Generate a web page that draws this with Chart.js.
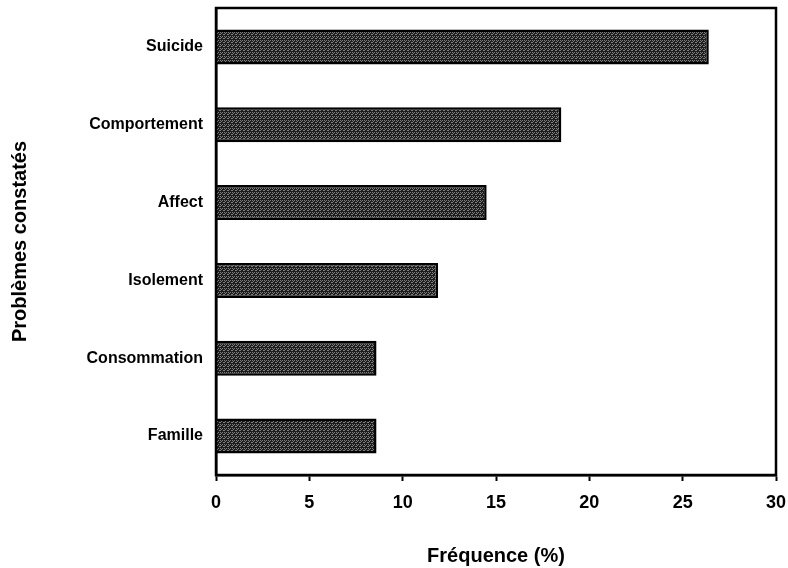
<!DOCTYPE html>
<html>
<head>
<meta charset="utf-8">
<script src="https://cdn.jsdelivr.net/npm/chart.js@4.4.1/dist/chart.umd.min.js"></script>
<style>
  html, body { margin: 0; padding: 0; background: #fff; }
  #wrap { width: 788px; height: 568px; }
</style>
</head>
<body>
<div id="wrap"><canvas id="barChart" width="788" height="568"></canvas></div>
<script>
// Problemes constates - frequence (%)
var categories = ['Suicide', 'Comportement', 'Affect', 'Isolement', 'Consommation', 'Famille'];
var frequences = [26.4, 18.5, 14.5, 11.9, 8.6, 8.6];
var xTicks = [0, 5, 10, 15, 20, 25, 30];

var fontFamily = '"Liberation Sans", Arial, Helvetica, sans-serif';

// stippled grey fill, like the printed bars
function makePattern() {
    var c = document.createElement('canvas');
    c.width = 4;
    c.height = 4;
    var g = c.getContext('2d');
    g.fillStyle = '#1c1c1c';
    g.fillRect(0, 0, 4, 4);
    g.fillStyle = '#808080';
    g.fillRect(0, 0, 1, 1);
    g.fillRect(2, 0, 1, 1);
    g.fillRect(1, 1, 1, 1);
    g.fillRect(3, 2, 1, 1);
    g.fillRect(0, 2, 1, 1);
    return g.createPattern(c, 'repeat');
}

// frame around the plot area (top and right sides)
var frameBox = {
    id: 'frameBox',
    afterDraw: function(chart) {
        var a = chart.chartArea;
        var ctx = chart.ctx;
        ctx.save();
        ctx.strokeStyle = '#000';
        ctx.lineWidth = 2.5;
        ctx.strokeRect(a.left, a.top, a.right - a.left, a.bottom - a.top);
        ctx.restore();
    }
};

var ctx = document.getElementById('barChart').getContext('2d');
new Chart(ctx, {
    type: 'bar',
    data: {
        labels: categories,
        datasets: [{
            label: 'Fréquence (%)',
            data: frequences,
            backgroundColor: makePattern(),
            borderColor: '#000',
            borderWidth: 2.5,
            barPercentage: 0.45,
            categoryPercentage: 1
        }]
    },
    options: {
        indexAxis: 'y',
        responsive: false,
        animation: false,
        layout: {
            padding: { top: 8, right: 12, left: 0, bottom: 0 }
        },
        plugins: {
            legend: { display: false },
            tooltip: { enabled: false }
        },
        scales: {
            x: {
                min: 0,
                max: 30,
                afterBuildTicks: function(scale) {
                    scale.ticks = xTicks.map(function(v) { return { value: v }; });
                },
                afterFit: function(scale) {
                    scale.height = 93;
                    scale.paddingLeft = 0;
                    scale.paddingRight = 0;
                },
                grid: {
                    drawOnChartArea: false,
                    tickLength: 6,
                    tickWidth: 2,
                    color: '#000'
                },
                border: { color: '#000', width: 2.5 },
                ticks: {
                    color: '#000',
                    padding: 11,
                    maxRotation: 0,
                    font: { family: fontFamily, size: 18, weight: 'bold' }
                },
                title: {
                    display: true,
                    text: 'Fréquence (%)',
                    color: '#000',
                    padding: { top: 0, bottom: 0 },
                    font: { family: fontFamily, size: 20, weight: 'bold' }
                }
            },
            y: {
                afterFit: function(scale) {
                    scale.width = 216;
                    scale.paddingTop = 0;
                    scale.paddingBottom = 0;
                },
                grid: {
                    display: false,
                    drawOnChartArea: false
                },
                border: { color: '#000', width: 2.5 },
                ticks: {
                    color: '#000',
                    padding: 5,
                    font: { family: fontFamily, size: 16, weight: 'bold' }
                },
                title: {
                    display: true,
                    text: 'Problèmes constatés',
                    color: '#000',
                    padding: { top: 8, bottom: 0 },
                    font: { family: fontFamily, size: 20, weight: 'bold' }
                }
            }
        }
    },
    plugins: [frameBox]
});
</script>
</body>
</html>
